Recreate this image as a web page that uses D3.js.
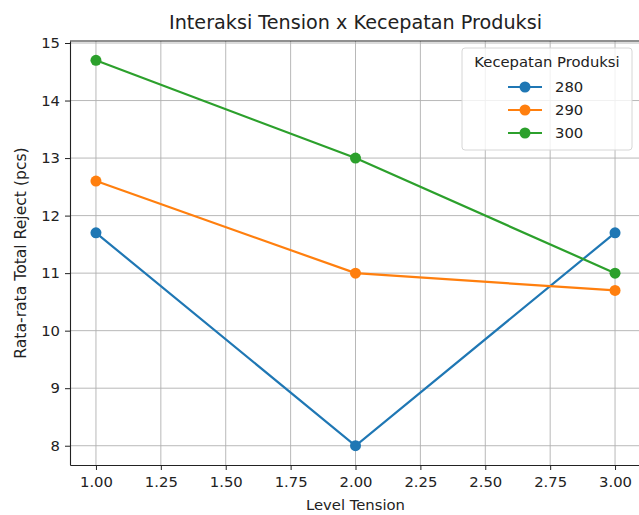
<!DOCTYPE html>
<html>
<head>
<meta charset="utf-8">
<script src="https://cdn.jsdelivr.net/npm/d3@7"></script>
<style>
  body { margin: 0; background: #fff; }
  svg { font-family: "DejaVu Sans", sans-serif; }
</style>
</head>
<body>
<div id="chart"></div>
<script>
// levels on the x axis
const levels = [1, 2, 3];

// series: mean total reject per speed
const speeds = ["280", "290", "300"];
const reject280 = [11.7, 8.0, 11.7];
const reject290 = [12.6, 11.0, 10.7];
const reject300 = [14.7, 13.0, 11.0];

const xTicks = [1.00, 1.25, 1.50, 1.75, 2.00, 2.25, 2.50, 2.75, 3.00];
const yTicks = [8, 9, 10, 11, 12, 13, 14, 15];

const colors = ["#1f77b4", "#ff7f0e", "#2ca02c"];

const series = [
  {name: speeds[0], values: reject280, color: colors[0]},
  {name: speeds[1], values: reject290, color: colors[1]},
  {name: speeds[2], values: reject300, color: colors[2]},
];

// set the dimensions and margins of the graph
const totalW = 639, totalH = 515;
const margin = {top: 41, right: -2, bottom: 50, left: 70},
    width = totalW - margin.left - margin.right,
    height = totalH - margin.top - margin.bottom;
const fs = 14.8;

const svg = d3.select("#chart")
  .append("svg")
    .attr("width", totalW)
    .attr("height", totalH)
  .append("g")
    .attr("transform", `translate(${margin.left},${margin.top})`);

const x = d3.scaleLinear()
  .domain([0.9, 3.1])
  .range([0, width]);

const y = d3.scaleLinear()
  .domain([7.665, 15.035])
  .range([height, 0]);

// grid
svg.append("g")
  .selectAll("line")
  .data(xTicks)
  .join("line")
    .attr("x1", d => x(d)).attr("x2", d => x(d))
    .attr("y1", 0).attr("y2", height)
    .attr("stroke", "#b0b0b0").attr("stroke-width", 0.9);

svg.append("g")
  .selectAll("line")
  .data(yTicks)
  .join("line")
    .attr("y1", d => y(d)).attr("y2", d => y(d))
    .attr("x1", 0).attr("x2", width)
    .attr("stroke", "#b0b0b0").attr("stroke-width", 0.9);

// axes
const xAxis = svg.append("g")
  .attr("transform", `translate(0,${height})`)
  .call(d3.axisBottom(x).tickValues(xTicks).tickFormat(d3.format(".2f"))
    .tickSize(5).tickSizeOuter(0).tickPadding(5));

const yAxis = svg.append("g")
  .call(d3.axisLeft(y).tickValues(yTicks).tickSize(5).tickSizeOuter(0).tickPadding(5));

[xAxis, yAxis].forEach(a => {
  a.attr("font-family", "DejaVu Sans, sans-serif").attr("font-size", fs);
  a.select(".domain").attr("stroke", "#222").attr("stroke-width", 1.1);
  a.selectAll(".tick line").attr("stroke", "#222");
  a.selectAll(".tick text").attr("fill", "#222");
});
xAxis.selectAll(".tick text").attr("dy", "0.8em");

// top spine
svg.append("line")
  .attr("x1", 0).attr("x2", width)
  .attr("y1", 0).attr("y2", 0)
  .attr("stroke", "#222").attr("stroke-width", 1.1);

// lines + markers
const line = d3.line()
  .x((d, i) => x(levels[i]))
  .y(d => y(d));

svg.append("g")
  .selectAll("path")
  .data(series)
  .join("path")
    .attr("d", d => line(d.values))
    .attr("fill", "none")
    .attr("stroke", d => d.color)
    .attr("stroke-width", 2.2);

series.forEach(s => {
  svg.append("g")
    .selectAll("circle")
    .data(s.values)
    .join("circle")
      .attr("cx", (d, i) => x(levels[i]))
      .attr("cy", d => y(d))
      .attr("r", 5.5)
      .attr("fill", s.color);
});

// title and labels
const root = d3.select("svg");
root.append("text")
  .attr("x", margin.left + x(2))
  .attr("y", 29)
  .attr("text-anchor", "middle")
  .attr("font-size", 19.2)
  .attr("fill", "#222")
  .text("Interaksi Tension x Kecepatan Produksi");

root.append("text")
  .attr("x", margin.left + x(2))
  .attr("y", 510)
  .attr("text-anchor", "middle")
  .attr("font-size", fs)
  .attr("fill", "#222")
  .text("Level Tension");

root.append("text")
  .attr("transform", `translate(26,${margin.top + height / 2}) rotate(-90)`)
  .attr("text-anchor", "middle")
  .attr("font-size", 15.6)
  .attr("fill", "#222")
  .text("Rata-rata Total Reject (pcs)");

// legend
const lg = root.append("g").attr("transform", "translate(462,48)");
lg.append("rect")
  .attr("width", 170).attr("height", 102)
  .attr("rx", 3)
  .attr("fill", "rgba(255,255,255,0.8)")
  .attr("stroke", "#d6d6d6");
lg.append("text")
  .attr("x", 85).attr("y", 19)
  .attr("text-anchor", "middle")
  .attr("font-size", fs)
  .attr("fill", "#222")
  .text("Kecepatan Produksi");

const item = lg.selectAll("g.item")
  .data(series)
  .join("g")
    .attr("class", "item")
    .attr("transform", (d, i) => `translate(0,${39 + i * 23})`);
item.append("line")
  .attr("x1", 46).attr("x2", 80)
  .attr("stroke", d => d.color).attr("stroke-width", 2.2);
item.append("circle")
  .attr("cx", 63).attr("r", 5.5)
  .attr("fill", d => d.color);
item.append("text")
  .attr("x", 93).attr("y", 5)
  .attr("font-size", fs)
  .attr("fill", "#222")
  .text(d => d.name);
</script>
</body>
</html>
